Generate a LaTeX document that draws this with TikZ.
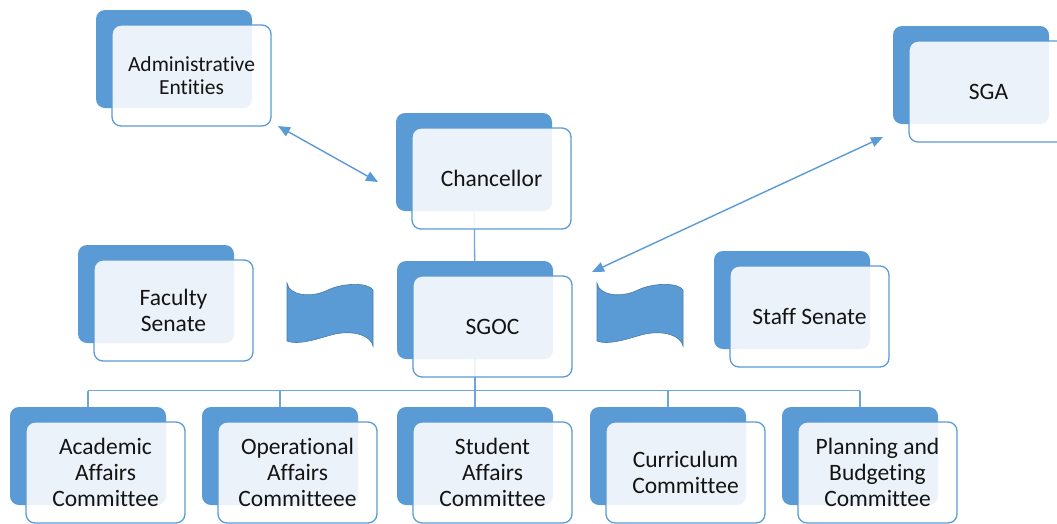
\documentclass[tikz,border=0pt]{standalone}
\usepackage{fontspec}
\setmainfont{Carlito}[Ligatures={NoCommon}]
\usetikzlibrary{arrows.meta,backgrounds,calc}
\definecolor{bblue}{HTML}{5B9BD5}
\definecolor{cblue}{HTML}{6FA5DA}
\definecolor{txt}{HTML}{141414}
\newcommand\orgbox[5][]{%
  \node[backbox] (#2-b) at (#3+78,#4+49) {};
  \node[frontbox,#1] (#2) at (#3+16+79.5,#4+15+50.5) {#5};
}
\begin{document}
\begin{tikzpicture}[x=1pt,y=-1pt,
  backbox/.style={fill=bblue, rounded corners=9pt, minimum width=156pt, minimum height=98pt, inner sep=0pt},
  frontbox/.style={draw=bblue, line width=1.3pt, fill=white, fill opacity=0.88, draw opacity=1, text opacity=1,
    rounded corners=9pt, minimum width=159pt, minimum height=101pt, inner sep=0pt, align=center,
    font=\fontsize{23.5}{26}\selectfont, text=txt},
  smalltext/.style={font=\fontsize{21.5}{23}\selectfont},
  conn/.style={draw=cblue, line width=1.3pt},
  dbl/.style={draw=bblue, line width=1.4pt, {Triangle[length=12pt,width=10pt]}-{Triangle[length=12pt,width=10pt]}},
  wave/.style={fill=bblue, draw=bblue!80!black, line width=0.6pt}
]
\useasboundingbox (0,0) rectangle (1057,523);

% boxes
\orgbox[smalltext]{admin}{96}{10}{Administrative\\Entities}
\orgbox{chan}{396}{113}{Chancellor}
\orgbox{sga}{893}{26}{SGA}
\orgbox{fac}{78}{245}{Faculty\\Senate}
\orgbox{sgoc}{397}{261}{SGOC}
\orgbox{staff}{714}{251}{Staff Senate}
\orgbox{acad}{10}{407}{Academic\\Affairs\\Committee}
\orgbox{oper}{202}{407}{Operational\\Affairs\\Committeee}
\orgbox{stud}{397}{407}{Student\\Affairs\\Committee}
\orgbox{curr}{590}{407}{Curriculum\\Committee}
\orgbox{plan}{782}{407}{Planning and\\Budgeting\\Committee}

% waves
\foreach \dx in {0,310}{
  \begin{scope}[shift={(\dx,0)}]
    \path[wave] (287,283) .. controls (289,296) and (312,298) .. (328,290)
      .. controls (342,283) and (368,282) .. (373,290) -- (373,346)
      .. controls (371,336) and (355,330) .. (335,334)
      .. controls (322,337) and (300,346) .. (287,341) -- cycle;
  \end{scope}
}

% double arrows
\coordinate (ae1) at (278,126);
\coordinate (ae2) at (378,182);
\draw[dbl] (ae1) -- (ae2);
\coordinate (se1) at (883,137);
\coordinate (se2) at (592,272);
\draw[dbl] (se1) -- (se2);

\begin{pgfonlayer}{background}
  \fill[white] (0,0) rectangle (1057,523);
  \coordinate (hbar) at (0,390.5);
  \draw[conn] (chan-b.center) -- (sgoc-b.center);
  \draw[conn] (sgoc-b.center) -- (sgoc-b.center |- hbar);
  \draw[conn] (acad-b.center |- hbar) -- (plan-b.center |- hbar);
  \foreach \n in {acad,oper,stud,curr,plan}
    \draw[conn] (\n-b.center |- hbar) -- (\n-b.center);
\end{pgfonlayer}
\end{tikzpicture}
\end{document}
